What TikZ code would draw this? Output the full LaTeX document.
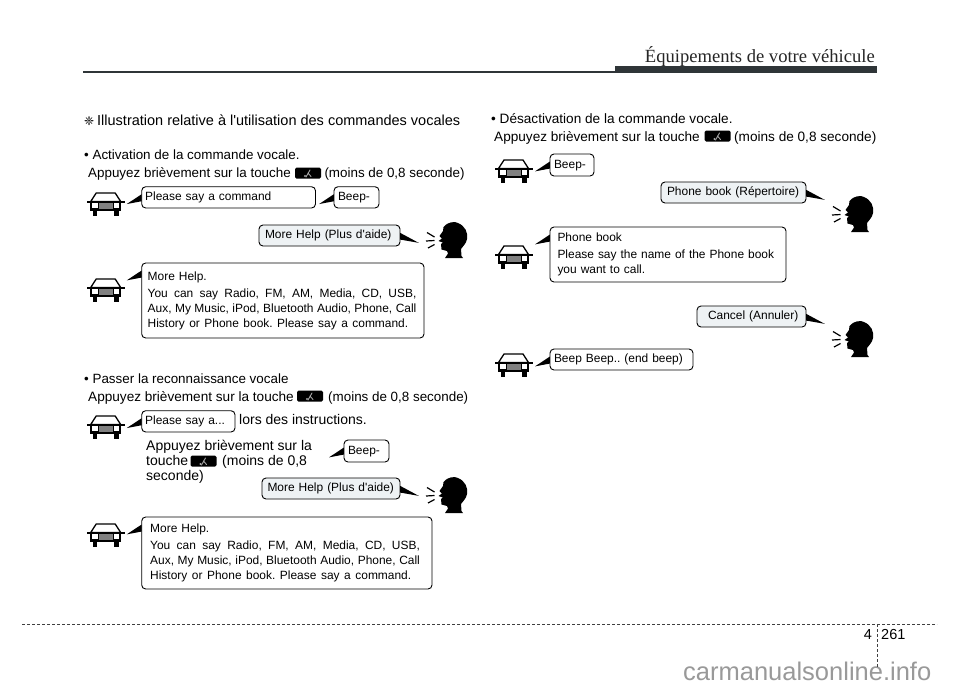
\documentclass[tikz,border=0pt]{standalone}
\usepackage{fontspec}
\setmainfont[Ligatures=TeXOff]{Liberation Sans}
\newfontfamily\headserif{Liberation Serif}
\newfontfamily\symfont{DejaVu Sans}
\usetikzlibrary{calc}
\frenchspacing
\definecolor{voicefill}{HTML}{EEF2F4}
\definecolor{barcol}{HTML}{2F3538}
\newcommand{\bs}{\rule[-3.5pt]{0pt}{13.5pt}}
\newcommand{\jl}[2]{\leavevmode\hbox to #1pt{\spaceskip=.278em plus 1fil minus 1fil\relax #2}}
\newcommand{\bub}[8]{%
  \pgfmathsetmacro\bw{#4-#2}\pgfmathsetmacro\bh{#5-#3}\pgfmathsetmacro\bt{#4-#2-2*#6}%
  \node[bubble,#7,minimum width=\bw pt,minimum height=\bh pt,inner xsep=#6 pt,text width=\bt pt,align=left] (#1) at ({(#2+#4)/2},{(#3+#5)/2}) {#8};}
\newcommand{\tailL}[1]{%
  \coordinate (#1-tip) at ($(#1.north west)+(-14.5,17.8)$);
  \fill[black] ($(#1.north west)+(0.3,8)$) -- ($(#1.north west)+(0.3,15)$) -- (#1-tip) -- cycle;}
\newcommand{\tailR}[1]{%
  \coordinate (#1-tip) at ($(#1.north east)+(18.3,18.3)$);
  \fill[black] ($(#1.north east)+(-0.3,8.3)$) -- ($(#1.north east)+(-0.3,15)$) -- (#1-tip) -- cycle;}
\tikzset{
  x=1pt,y=-1pt,
  bubble/.style={draw=black,line width=0.9pt,rounded corners=4pt,fill=white,inner ysep=0pt,font=\fontsize{11.95}{15}\selectfont},
  voice/.style={fill=voicefill},
  txt/.style={anchor=base west,inner sep=0pt,font=\fontsize{13.6}{17}\selectfont},
  txta/.style={anchor=base west,inner sep=0pt,font=\fontsize{13.4}{17}\selectfont},
  txtb/.style={anchor=base west,inner sep=0pt,font=\fontsize{14}{17}\selectfont},
  pagenum/.style={inner sep=0pt,font=\fontsize{14.5}{17}\selectfont},
  rule/.style={draw=black!75,line width=1pt,dash pattern=on 3pt off 2pt},
  car/.pic={
    \draw[line width=1.3pt,fill=white,line join=round] (-9.5,-11)--(9.5,-11)--(15,-2.5)--(-15,-2.5)--cycle;
    \fill[black] (-15.5,-3) rectangle (15.5,6.8);
    \fill[black] (-19,-3) rectangle (19,-1.2);
    \fill[white] (-13.5,-1.2) rectangle (-8,3.6);
    \fill[white] (8,-1.2) rectangle (13.5,3.6);
    \fill[black!50] (-7,-1.2) rectangle (7,5.4);
    \fill[black] (-13,6) rectangle (-8.5,12);
    \fill[black] (8.5,6) rectangle (13,12);
  },
  head/.pic={
    \fill[black] (18.5,9) .. controls (22,4) and (30,3) .. (33,5) .. controls (40,8) and (43,14) .. (42,21)
      .. controls (41,26) and (38,28) .. (36,31) -- (36.5,38) -- (38,40) -- (20,40) -- (23,35.5) -- (22,33)
      -- (16.5,31.5) -- (16,26) -- (18,24.5) -- (13.5,23) -- (17,20.5) -- (14.5,18) -- (18,13) -- cycle;
    \draw[black,line width=1.2pt] (2,14.5)--(9.5,19) (1,23)--(9.5,22.5) (3,30)--(9.5,26.5);
  },
  talkkey/.pic={
    \fill[black,rounded corners=1.5pt] (-13,-5.5) rectangle (13,5.5);
    \draw[black!35,line width=0.9pt,line cap=round] (-2,4) -- (2,-3) (0,0) -- (3,3.5);
    \fill[black!35] (-3,3) circle (1.2);
  }
}
\begin{document}
\begin{tikzpicture}
\useasboundingbox (0,0) rectangle (960,689);
\fill[white] (0,0) rectangle (960,689);

% header
\coordinate (hl) at (83,71.5);
\coordinate (hm) at (615,71.5);
\draw[barcol,line width=2pt] (hl) -- (hm);
\fill[barcol] (615,65.7) rectangle (877,72.5);
\node[anchor=base east,inner sep=0pt,text=black!85,font=\headserif\fontsize{18.6}{20}\selectfont] (title) at (875,62.5) {Équipements de votre véhicule};

% footer
\coordinate (fl) at (22,624);
\coordinate (fr) at (937,624);
\coordinate (ft) at (877,624);
\coordinate (fb) at (877,668);
\node[anchor=base west,inner sep=0pt,text=black!40,font=\fontsize{25.5}{28}\selectfont] (wm) at (683,680) {carmanualsonline.info};
\draw[rule] (fl) -- (fr);
\draw[rule] (ft) -- (fb);
\node[pagenum,anchor=base east] (chap) at (872,639) {4};
\node[pagenum,anchor=base west] (page) at (881,639) {261};

% left column text
\node[txt] (star) at (84,125) {\symfont\fontsize{12}{12}\selectfont ❈};
\node[txt,font=\fontsize{14.5}{17}\selectfont] (h1) at (97,125) {Illustration relative à l'utilisation des commandes vocales};
\node[txta] (a1) at (84,159) {• Activation de la commande vocale.};
\node[txta] (a2) at (88,177) {Appuyez brièvement sur la touche};
\pic at (308,173) {talkkey};
\node[txta] (a3) at (324.3,177) {(moins de 0,8 seconde)};

\node[txta] (p1) at (84,383) {• Passer la reconnaissance vocale};
\node[txt] (p2) at (88,401) {Appuyez brièvement sur la touche};
\pic at (310,396) {talkkey};
\node[txta] (p3) at (328,401) {(moins de 0,8 seconde)};
\node[txtb] (p4) at (239,424) {lors des instructions.};
\node[txtb] (p5) at (146,450) {Appuyez brièvement sur la};
\node[txtb] (p6) at (146,465) {touche};
\pic at (203.5,461) {talkkey};
\node[txtb] (p7) at (222,465) {(moins de 0,8};
\node[txtb] (p8) at (146,480) {seconde)};

% right column text
\node[txt] (d1) at (491,123) {• Désactivation de la commande vocale.};
\node[txt] (d2) at (494,141) {Appuyez brièvement sur la touche};
\pic at (717.5,136) {talkkey};
\node[txt] (d3) at (734,141) {(moins de 0,8 seconde)};

% cars and speakers
\pic at (105.7,204) {car};
\pic at (105.7,290) {car};
\pic at (105.7,427) {car};
\pic at (105.7,535) {car};
\pic at (513.5,171) {car};
\pic at (513.5,257) {car};
\pic at (513.5,365) {car};
\pic at (425,218) {head};
\pic at (425,473) {head};
\pic at (831,192) {head};
\pic at (831,317) {head};

% bubbles, first block
\bub{b1}{141.7}{186.7}{315.5}{208}{3.5}{}{\bs Please say a command}
\bub{b2}{334}{186.7}{379}{208}{4}{}{\bs Beep-}
\bub{b3}{259}{225}{400}{246}{6}{voice}{\bs More Help (Plus d'aide)}
\bub{b4}{141.7}{263}{424}{338}{6}{}{\rule{0pt}{9pt}More Help.\\[2pt]
\jl{268.7}{You can say Radio, FM, AM, Media, CD, USB,}\\
\jl{268.7}{Aux, My Music, iPod, Bluetooth Audio, Phone, Call}\\
\jl{260.5}{History or Phone book. Please say a command.}}
\tailL{b1}\tailL{b2}\tailR{b3}\tailL{b4}

% bubbles, second block
\bub{c1}{141.7}{410.7}{235}{432}{3.5}{}{\bs Please say a...}
\bub{c2}{344}{440}{389}{462}{4}{}{\bs Beep-}
\bub{c3}{262}{478}{400}{499}{5.5}{voice}{\bs More Help (Plus d'aide)}
\bub{c4}{141.7}{517}{432}{589}{8.5}{}{\rule{0pt}{9pt}More Help.\\[2pt]
\jl{269.7}{You can say Radio, FM, AM, Media, CD, USB,}\\
\jl{269.7}{Aux, My Music, iPod, Bluetooth Audio, Phone, Call}\\
\jl{261}{History or Phone book. Please say a command.}}
\tailL{c1}\tailL{c2}\tailR{c3}\tailL{c4}

% bubbles, right block
\bub{r1}{550}{154}{594}{176}{4}{}{\bs Beep-}
\bub{r2}{661}{182}{806}{203}{6}{voice}{\bs Phone book (Répertoire)}
\bub{r3}{550}{227}{786}{282}{7.5}{}{\rule{0pt}{9pt}Phone book\\[2pt]
Please say the name of the Phone book\\
you want to call.}
\bub{r4}{697}{306}{806}{327}{11}{voice}{\bs\mbox{Cancel (Annuler)}}
\bub{r5}{550}{349}{693}{370}{4}{}{\bs Beep Beep.. (end beep)}
\tailL{r1}\tailR{r2}\tailL{r3}\tailR{r4}\tailL{r5}
\end{tikzpicture}
\end{document}
